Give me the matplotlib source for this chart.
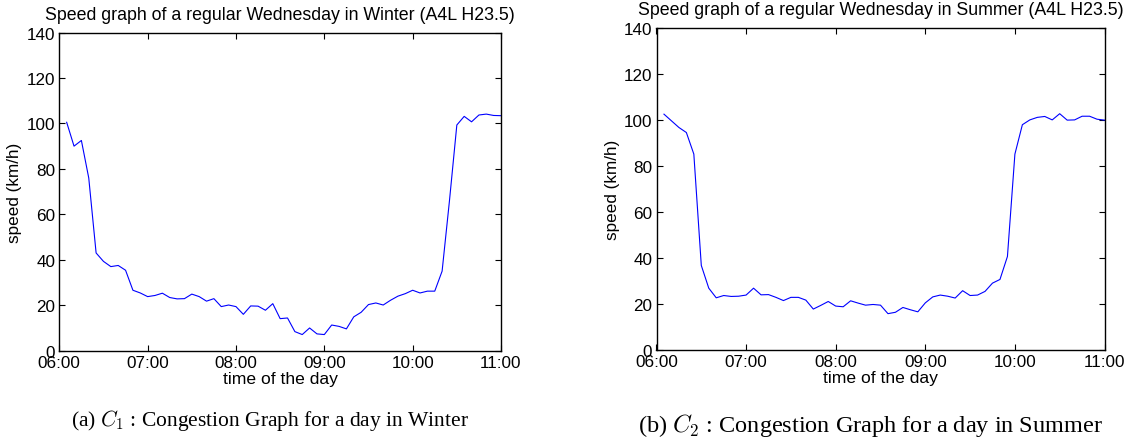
import matplotlib
matplotlib.use("Agg")
import matplotlib.pyplot as plt
import numpy as np

plt.rcParams["font.family"] = ["Liberation Sans", "DejaVu Sans"]
plt.rcParams["mathtext.fontset"] = "cm"

# 5-minute samples from 06:05 to 11:00 (hours)
minutes = np.arange(365, 661, 5)
hours = minutes / 60.0

winter = [100.5, 90.0, 92.5, 76.0, 43.0, 39.3, 37.0, 37.5, 35.4, 26.6, 25.4, 23.8,
          24.3, 25.3, 23.4, 22.8, 22.9, 24.9, 23.8, 21.8, 22.9, 19.4, 20.1, 19.4,
          16.0, 19.7, 19.6, 17.8, 20.7, 14.1, 14.4, 8.4, 7.1, 10.0, 7.4, 7.1,
          11.3, 10.7, 9.6, 14.9, 16.9, 20.3, 21.0, 20.1, 22.2, 24.0, 25.1, 26.6,
          25.4, 26.2, 26.2, 35.0, 66.0, 99.3, 103.1, 100.7, 103.7, 104.1, 103.5, 103.4]

summer = [102.6, 99.7, 96.8, 94.6, 85.2, 36.7, 26.8, 22.6, 23.6, 23.2, 23.3, 23.8,
          26.8, 23.9, 24.0, 22.8, 21.4, 22.8, 22.8, 21.6, 17.7, 19.3, 21.0, 19.0,
          18.7, 21.3, 20.3, 19.4, 19.7, 19.4, 15.7, 16.3, 18.4, 17.4, 16.5, 20.4,
          23.0, 23.8, 23.3, 22.5, 25.7, 23.6, 23.8, 25.4, 29.0, 30.6, 40.6, 85.2,
          98.0, 100.1, 101.2, 101.6, 100.1, 102.8, 100.0, 100.1, 101.7, 101.7, 100.4, 100.0]

xticks = [6, 7, 8, 9, 10, 11]
xticklabels = ["06:00", "07:00", "08:00", "09:00", "10:00", "11:00"]
yticks = [0, 20, 40, 60, 80, 100, 120, 140]

titles = ["Speed graph of a regular Wednesday in Winter (A4L H23.5)",
          "Speed graph of a regular Wednesday in Summer (A4L H23.5)"]
captions = [r"(a) $C_1$ : Congestion Graph for a day in Winter",
            r"(b) $C_2$ : Congestion Graph for a day in Summer"]

W, H = 1129, 439
fig = plt.figure(figsize=(W / 100, H / 100), dpi=100)


def px(x0, y0, x1, y1):
    return [x0 / W, 1 - y1 / H, (x1 - x0) / W, (y1 - y0) / H]


ax1 = fig.add_axes(px(59.3, 33.5, 501, 351.7))
ax2 = fig.add_axes(px(656.5, 29.3, 1104.5, 350.7))

for ax, y, title, tpad in [(ax1, winter, titles[0], 9.6), (ax2, summer, titles[1], 10.3)]:
    ax.plot(hours, y, color="#0000ff", lw=0.8)
    ax.set_xlim(6, 11)
    ax.set_ylim(0, 140)
    ax.set_xticks(xticks)
    ax.set_xticklabels(xticklabels)
    ax.set_yticks(yticks)
    ax.tick_params(direction="in", length=4, width=0.8, labelsize=12.3,
                   top=True, right=True, pad=3)
    for s in ax.spines.values():
        s.set_linewidth(1.0)
    ax.set_xlabel("time of the day", fontsize=12.6, labelpad=1)
    ax.set_ylabel("speed (km/h)", fontsize=12.3, labelpad=3)
    ax.set_title(title, fontsize=12.8, pad=tpad)

fig.text(270 / W, 1 - 421 / H, captions[0], fontsize=15.5,
         family="Liberation Serif", ha="center", va="center")
fig.text(870 / W, 1 - 426 / H, captions[1], fontsize=17.5,
         family="Liberation Serif", ha="center", va="center")

fig.savefig("out.png", dpi=100)
